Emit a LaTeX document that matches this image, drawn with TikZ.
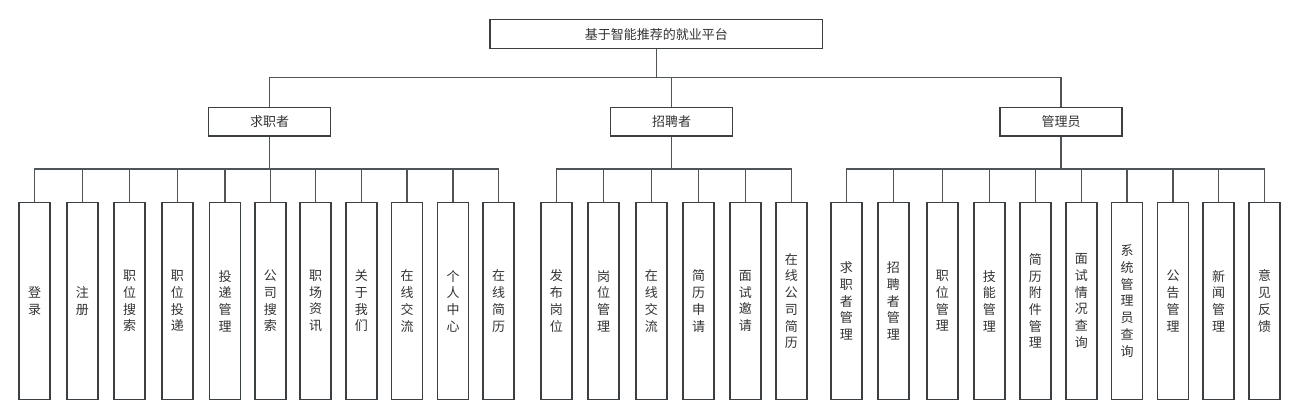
\documentclass[tikz,border=0pt]{standalone}
\usepackage{fontspec}
\usepackage{xcolor}
\newfontfamily\cjk{Noto Sans CJK SC}
\definecolor{schemabordo}{HTML}{3A3F44}
\definecolor{schemalinea}{HTML}{4F5459}
\definecolor{schematesto}{HTML}{333333}
\newcommand{\foglia}[4]{
  % #1 = nome del nodo, #2 = x del centro, #3 = nodo padre, #4 = testo (un carattere per riga)
  \node[casellafoglia] (#1) at (#2,301) {#4};
  \draw[linea] (#3.south) -- ++(0,32.3) -| (#1.north);
}

\begin{document}
\begin{tikzpicture}[x=1pt,y=-1pt,
  casella/.style={draw=schemabordo, line width=1.5pt, fill=white, text=schematesto,
    font=\cjk\fontsize{13}{16.7}\selectfont, inner sep=0pt},
  casellafoglia/.style={casella, minimum width=31pt, minimum height=197pt, align=center},
  linea/.style={draw=schemalinea, line width=1.2pt}]

  % ---- Area della pagina (in pixel, y verso il basso) -------------------
  \useasboundingbox (0,0) rectangle (1299,419);

  % ---- Radice ---------------------------------------------------------------
  \node[casella, minimum width=332.5pt, minimum height=29pt]
    (radice) at (656.3,34.2) {基于智能推荐的就业平台};

  % ---- Tre ruoli --------------------------------------------------------------
  \node[casella, minimum width=122pt, minimum height=28.5pt] (candidato) at (269.7,121.7) {求职者};
  \node[casella, minimum width=122pt, minimum height=28.5pt] (azienda) at (671.6,121.7) {招聘者};
  \node[casella, minimum width=122pt, minimum height=28.5pt] (amministratore) at (1061,121.7) {管理员};
  \draw[linea] (radice.south) -- ++(0,28.4) -| (candidato.north);
  \draw[linea] (radice.south) -- ++(0,28.4) -| (azienda.north);
  \draw[linea] (radice.south) -- ++(0,28.4) -| (amministratore.north);

  % ---- Funzioni del candidato -------------------------------------------
  \foglia{c1}{34.7}{candidato}{登\\录}
  \foglia{c2}{82.3}{candidato}{注\\册}
  \foglia{c3}{129.7}{candidato}{职\\位\\搜\\索}
  \foglia{c4}{177.3}{candidato}{职\\位\\投\\递}
  \foglia{c5}{225}{candidato}{投\\递\\管\\理}
  \foglia{c6}{270.3}{candidato}{公\\司\\搜\\索}
  \foglia{c7}{315.7}{candidato}{职\\场\\资\\讯}
  \foglia{c8}{361.3}{candidato}{关\\于\\我\\们}
  \foglia{c9}{407}{candidato}{在\\线\\交\\流}
  \foglia{c10}{453}{candidato}{个\\人\\中\\心}
  \foglia{c11}{498.7}{candidato}{在\\线\\简\\历}

  % ---- Funzioni dell'azienda ----------------------------------------------
  \foglia{a1}{556.3}{azienda}{发\\布\\岗\\位}
  \foglia{a2}{603.7}{azienda}{岗\\位\\管\\理}
  \foglia{a3}{651.3}{azienda}{在\\线\\交\\流}
  \foglia{a4}{698.7}{azienda}{简\\历\\申\\请}
  \foglia{a5}{745.3}{azienda}{面\\试\\邀\\请}
  \foglia{a6}{791.3}{azienda}{在\\线\\公\\司\\简\\历}

  % ---- Funzioni dell'amministratore ---------------------------------------
  \foglia{m1}{846.3}{amministratore}{求\\职\\者\\管\\理}
  \foglia{m2}{893.3}{amministratore}{招\\聘\\者\\管\\理}
  \foglia{m3}{942.3}{amministratore}{职\\位\\管\\理}
  \foglia{m4}{989.3}{amministratore}{技\\能\\管\\理}
  \foglia{m5}{1035.3}{amministratore}{简\\历\\附\\件\\管\\理}
  \foglia{m6}{1081.3}{amministratore}{面\\试\\情\\况\\查\\询}
  \foglia{m7}{1127}{amministratore}{系\\统\\管\\理\\员\\查\\询}
  \foglia{m8}{1173}{amministratore}{公\\告\\管\\理}
  \foglia{m9}{1218.7}{amministratore}{新\\闻\\管\\理}
  \foglia{m10}{1264.7}{amministratore}{意\\见\\反\\馈}

\end{tikzpicture}
\end{document}
